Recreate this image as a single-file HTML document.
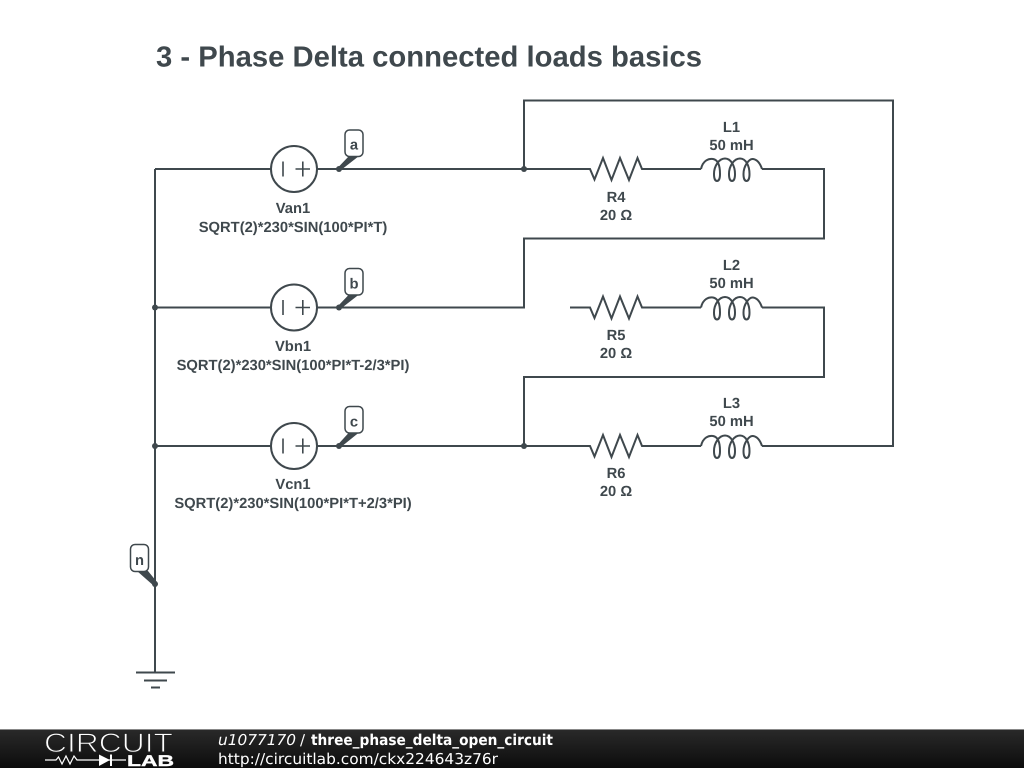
<!DOCTYPE html>
<html><head><meta charset="utf-8"><style>
html,body{margin:0;padding:0;background:#fff;width:1024px;height:768px;overflow:hidden}
svg{display:block;text-rendering:geometricPrecision}
.l{font:bold 14.750px "Liberation Sans",sans-serif;fill:#3f484d;text-anchor:middle}
.n{font:bold 14.750px "Liberation Sans",sans-serif;fill:#3f484d;text-anchor:middle}
.w{fill:none;stroke:#3f484d;stroke-width:2}
.t{fill:none;stroke:#3f484d;stroke-width:1.600}
.f{font-family:"DejaVu Sans",sans-serif;font-size:15px;fill:#fff}
</style></head><body>
<svg width="1024" height="768" viewBox="0 0 1024 768" xmlns="http://www.w3.org/2000/svg">
<defs>
<linearGradient id="g" x1="0" y1="0" x2="0" y2="1"><stop offset="0" stop-color="#2a2a2a"/><stop offset="1" stop-color="#0c0c0c"/></linearGradient>
<g id="res"><path class="w" d="M570 0H590L594.500 10.500L603 -11L611.500 11L620 -11L629 11L637.500 -11L642 0H701"/></g>
<g id="ind"><path class="w" d="M701 0C703 -9 709 -10.500 713 -10C719 -9 720 -1 720 5C720 10 718.500 12 717 12C715.500 12 714 10 714 5C714 -3 719 -10.500 725 -10.500C731 -10.500 735 -3 735 5C735 10 733.500 12 732 12C730.500 12 729 10 729 5C729 -3 734 -10.500 740 -10.500C746 -10.500 749.500 -3 749.500 5C749.500 10 748 12 746.500 12C745 12 743.500 10 743.500 5C743.500 -3 749 -10.500 753 -10C757 -9.500 760 -6 762 0"/></g>
<g id="src"><circle class="w" cx="294" cy="0" r="23"/><path class="t" d="M283 -7.500V7.500M295.500 0H310M302.800 -7.500V7.500"/></g>
</defs>
<text x="156" y="66.500" style="font:bold 29px 'Liberation Sans',sans-serif;fill:#3f484d" textLength="546" lengthAdjust="spacingAndGlyphs">3 - Phase Delta connected loads basics</text>

<path class="w" d="M155 169V672M155 169H271M317 169H590M155 307.500H271M317 307.500H524V238.500H824V169H762M155 446H271M317 446H590M524 169V100.500H893V446H762M762 307.500H824V377H524V446"/>
<path class="w" d="M136 672.500H175M144 680.500H167M151 687.500H160"/>

<use href="#res" y="169"/><use href="#ind" y="169"/>
<use href="#res" y="307.500"/><use href="#ind" y="307.500"/>
<use href="#res" y="446"/><use href="#ind" y="446"/>

<use href="#src" y="169"/><use href="#src" y="307.500"/><use href="#src" y="446"/>

<g fill="#3f484d">
<circle cx="155" cy="307.500" r="3"/><circle cx="155" cy="446" r="3"/><circle cx="155" cy="584" r="3"/>
<circle cx="339" cy="169" r="3"/><circle cx="339" cy="307.500" r="3"/><circle cx="339" cy="446" r="3"/>
<circle cx="524" cy="169" r="3"/><circle cx="524" cy="446" r="3"/>
<path d="M338 167.500L349 156H359L341 170ZM338 306L349 294.500H359L341 308.500ZM338 444.500L349 432.500H359L341 447Z"/>
<path d="M137 571H148L157 582L154 586Z"/>
</g>
<g fill="#fff" stroke="#3f484d" stroke-width="1.500">
<rect x="345" y="130" width="18" height="26.500" rx="4.500"/>
<rect x="345" y="268.500" width="18" height="26.500" rx="4.500"/>
<rect x="345" y="406.500" width="18" height="26.500" rx="4.500"/>
<rect x="130.500" y="544.500" width="18" height="27" rx="4.500"/>
</g>
<text class="n" x="354" y="149.500">a</text>
<text class="n" x="354" y="288.500">b</text>
<text class="n" x="354" y="426.500">c</text>
<text class="n" x="139.500" y="565">n</text>

<text class="l" x="293" y="213">Van1</text>
<text class="l" x="293" y="232">SQRT(2)*230*SIN(100*PI*T)</text>
<text class="l" x="293" y="351">Vbn1</text>
<text class="l" x="293" y="370">SQRT(2)*230*SIN(100*PI*T-2/3*PI)</text>
<text class="l" x="293" y="489">Vcn1</text>
<text class="l" x="293" y="508">SQRT(2)*230*SIN(100*PI*T+2/3*PI)</text>

<text class="l" x="731.500" y="132">L1</text><text class="l" x="731.500" y="150">50 mH</text>
<text class="l" x="731.500" y="270">L2</text><text class="l" x="731.500" y="288">50 mH</text>
<text class="l" x="731.500" y="408">L3</text><text class="l" x="731.500" y="426">50 mH</text>
<text class="l" x="616" y="202">R4</text><text class="l" x="616" y="220">20 Ω</text>
<text class="l" x="616" y="340">R5</text><text class="l" x="616" y="358">20 Ω</text>
<text class="l" x="616" y="478">R6</text><text class="l" x="616" y="496">20 Ω</text>

<rect x="0" y="729" width="1024" height="39" fill="url(#g)"/>
<rect x="0" y="729" width="1024" height="1" fill="#888"/>
<text x="44" y="752" style="font:27px 'Liberation Sans',sans-serif;fill:#fff;stroke:#222;stroke-width:1" textLength="129" lengthAdjust="spacingAndGlyphs">CIRCUIT</text>
<path d="M45 760H56L58.500 757L62 764L66 756L70 764L74 756L77 760H126" fill="none" stroke="#fff" stroke-width="1.200"/>
<path d="M99 754.500L110 760L99 766ZM110 754.500H112V766H110Z" fill="#fff"/>
<text x="127" y="766" style="font:bold 15.500px 'Liberation Sans',sans-serif;fill:#fff;stroke:#fff;stroke-width:.4" textLength="47" lengthAdjust="spacingAndGlyphs">LAB</text>
<text class="f" x="218" y="745" style="font-style:italic" textLength="78" lengthAdjust="spacingAndGlyphs">u1077170</text>
<text class="f" x="300" y="745">/</text>
<text class="f" x="311" y="745" style="font-weight:bold" textLength="242" lengthAdjust="spacingAndGlyphs">three_phase_delta_open_circuit</text>
<text class="f" x="218" y="764" textLength="280" lengthAdjust="spacingAndGlyphs">http://circuitlab.com/ckx224643z76r</text>
</svg>
</body></html>
